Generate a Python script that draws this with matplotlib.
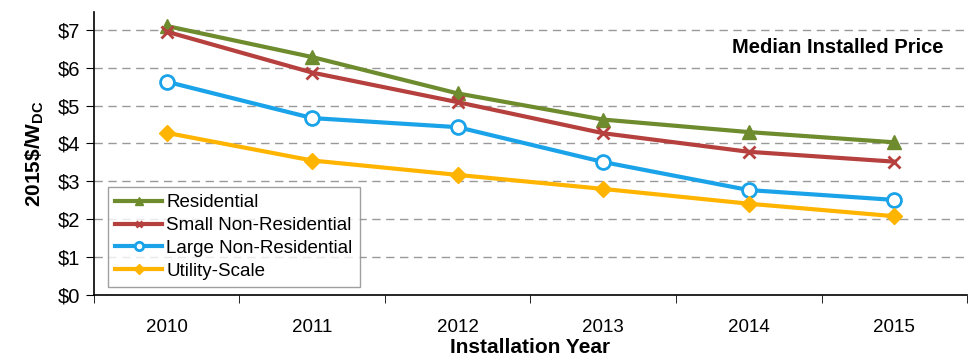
import numpy as np
import matplotlib.pyplot as plt

plt.rcParams['font.family'] = ['Liberation Sans', 'DejaVu Sans']

years = ["2010", "2011", "2012", "2013", "2014", "2015"]
residential = [7.1, 6.28, 5.32, 4.63, 4.3, 4.03]
small_nonres = [6.95, 5.87, 5.09, 4.27, 3.78, 3.52]
large_nonres = [5.63, 4.67, 4.43, 3.51, 2.77, 2.51]
utility = [4.28, 3.55, 3.17, 2.8, 2.41, 2.08]

fig = plt.figure(figsize=(9.75, 3.61), dpi=100)
ax = fig.add_axes([0.0964, 0.1828, 0.8954, 0.784])

x = np.arange(len(years))
ax.plot(x, residential, "-", color="#6E8B2E", lw=3, marker="^", ms=10, label="Residential")
ax.plot(x, small_nonres, "-", color="#B5403E", lw=3, marker="x", ms=8, mew=2, label="Small Non-Residential")
ax.plot(x, large_nonres, "-", color="#1AA3E8", lw=3, marker="o", ms=10, mfc="white", mew=2,
        label="Large Non-Residential")
ax.plot(x, utility, "-", color="#FFB400", lw=3, marker="D", ms=8, label="Utility-Scale")

ax.set_xlim(-0.5, 5.5)
ax.set_ylim(0, 7.47)
ax.set_yticks(range(8))
ax.set_yticklabels(["$%d" % v for v in range(8)], fontsize=14.5)
ax.set_xticks(x)
ax.set_xticklabels(years, fontsize=13.5)
ax.set_xticks(np.arange(-0.5, 6, 1), minor=True)
ax.tick_params(axis="x", which="major", length=0, pad=17)
ax.tick_params(axis="x", which="minor", length=6, direction="out")
ax.tick_params(axis="y", length=6, direction="out", pad=4)

for v in range(1, 8):
    ax.axhline(v, color="#999999", lw=1, ls=(0, (6, 4)), zorder=0)

for s in ["top", "right"]:
    ax.spines[s].set_visible(False)
ax.spines["left"].set_linewidth(1.2)
ax.spines["bottom"].set_linewidth(1.2)

ax.set_xlabel("Installation Year", fontsize=15, fontweight="bold", labelpad=2)
ax.set_ylabel("2015\\$/W$_{\\mathregular{DC}}$", fontsize=15, fontweight="bold", labelpad=8)

ax.text(0.973, 0.875, "Median Installed Price", transform=ax.transAxes, ha="right", va="center",
        fontsize=14.5, fontweight="bold")

leg = ax.legend(loc="lower left", bbox_to_anchor=(0.016, 0.028), borderaxespad=0, fontsize=13.5,
                frameon=True, fancybox=False, edgecolor="#888888", handlelength=2.5,
                handletextpad=0.2, borderpad=0.4, labelspacing=0.3, markerscale=0.6)
leg.get_frame().set_linewidth(1)

fig.savefig("out.png", dpi=100)
